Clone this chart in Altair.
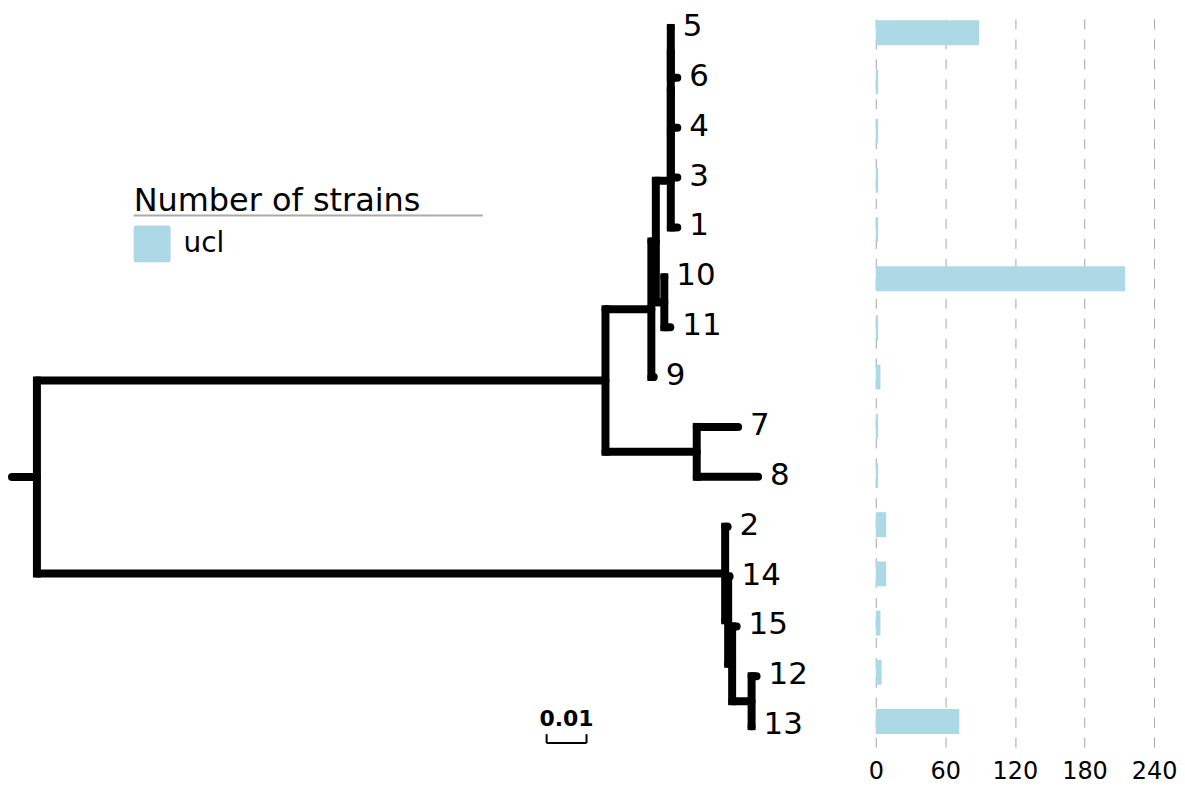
import altair as alt
import pandas as pd

# ---------------- data ----------------
# Tree topology (children listed top-to-bottom), branch lengths in substitutions/site
NODES = ["R", "A", "B", "D", "C", "G", "9", "F", "E", "P", "1", "Q", "3", "S", "4",
         "5", "6", "10", "11", "7", "8", "2", "L", "14", "K", "15", "J", "12", "13"]
PARENTS = [None, "R", "R", "A", "A", "D", "D", "G", "G", "F", "F", "P", "P", "Q", "Q",
           "S", "S", "E", "E", "C", "C", "B", "B", "L", "L", "K", "K", "J", "J"]
BRANCH = [0.00625, 0.1425, 0.1725, 0.0115, 0.022875, 0.001125, 0.0006, 0.00375, 0.002125,
          0.0, 0.001625, 0.0, 0.001625, 0.0, 0.001625,
          0.0, 0.001625, 0.0, 0.0015, 0.010375, 0.015375, 0.000625, 0.00075, 0.000375,
          0.001, 0.001125, 0.004875, 0.00125, 0.0]

# Number of strains per leaf
STRAIN_LEAVES = ["5", "6", "4", "3", "1", "10", "11", "9", "7", "8", "2", "14", "15", "12", "13"]
STRAIN_COUNTS = [89, 2, 2, 2, 2, 215, 2, 4, 2, 2, 9, 9, 4, 5, 72]
SOURCE = "ucl"
X_TICKS = [0, 60, 120, 180, 240]
SCALE_BAR_LENGTH = 0.01
SCALE_BAR_LABEL = "0.01"

FONT = "DejaVu Sans"

# ---------------- tree layout ----------------
children = {}
for n, p in zip(NODES, PARENTS):
    if p is not None:
        children.setdefault(p, []).append(n)
blen = dict(zip(NODES, BRANCH))
parent = dict(zip(NODES, PARENTS))
dist, ypos, order = {}, {}, []


def walk(n, d):
    dist[n] = d + blen[n]
    if n in children:
        for c in children[n]:
            walk(c, dist[n])
        ypos[n] = (ypos[children[n][0]] + ypos[children[n][-1]]) / 2
    else:
        ypos[n] = len(order)
        order.append(n)


walk(NODES[0], 0.0)

hdf = pd.DataFrame([
    {"x": dist[parent[n]] if parent[n] else 0.0, "x2": dist[n], "y": ypos[n]}
    for n in NODES
])
vdf = pd.DataFrame([
    {"x": dist[n], "y": ypos[children[n][0]], "y2": ypos[children[n][-1]]}
    for n in NODES if n in children
])
ldf = pd.DataFrame([{"leaf": n, "x": dist[n], "y": ypos[n]} for n in order])
bdf = pd.DataFrame({
    "leaf": STRAIN_LEAVES,
    "count": STRAIN_COUNTS,
    "y": [ypos[l] for l in STRAIN_LEAVES],
    "source": [SOURCE] * len(STRAIN_LEAVES),
})

# ---------------- scales ----------------
xscale = alt.Scale(domain=[-0.00075, 0.21425], nice=False, zero=False)
yscale = alt.Scale(domain=[-0.38, 14.42], reverse=True, nice=False, zero=False)
X = lambda f: alt.X(f, scale=xscale, axis=None)
Y = lambda f: alt.Y(f, scale=yscale, axis=None)

hseg = alt.Chart(hdf).mark_rule(strokeWidth=8, strokeCap="round", color="black").encode(
    x=X("x:Q"), x2="x2:Q", y=Y("y:Q"))
vseg = alt.Chart(vdf).mark_rule(strokeWidth=8, strokeCap="square", color="black").encode(
    x=X("x:Q"), y=Y("y:Q"), y2="y2:Q")
labels = alt.Chart(ldf).mark_text(
    align="left", baseline="middle", dx=12, dy=-1, fontSize=31, font=FONT, color="black"
).encode(x=X("x:Q"), y=Y("y:Q"), text="leaf:N")

# scale bar
SB_START = 0.134
sb = pd.DataFrame({"x": [SB_START], "x2": [SB_START + SCALE_BAR_LENGTH], "y": [14.34],
                   "label": [SCALE_BAR_LABEL], "xm": [SB_START + SCALE_BAR_LENGTH / 2], "yt": [13.85]})
sb_ticks = pd.DataFrame({"x": [SB_START, SB_START + SCALE_BAR_LENGTH], "y": [14.34, 14.34], "y2": [14.16, 14.16]})
sb_line = alt.Chart(sb).mark_rule(strokeWidth=2, color="black").encode(x=X("x:Q"), x2="x2:Q", y=Y("y:Q"))
sb_tick = alt.Chart(sb_ticks).mark_rule(strokeWidth=2, color="black").encode(x=X("x:Q"), y=Y("y:Q"), y2="y2:Q")
sb_text = alt.Chart(sb).mark_text(fontSize=22, fontWeight="bold", font=FONT, color="black",
                                  baseline="middle").encode(x=X("xm:Q"), y=Y("yt:Q"), text="label:N")

underline = alt.Chart(pd.DataFrame({"a": [0]})).mark_rule(color="#aaaaaa", strokeWidth=2).encode(
    x=alt.value(125), x2=alt.value(475), y=alt.value(207))

tree = alt.layer(vseg, hseg, labels, sb_line, sb_tick, sb_text, underline).properties(
    width=860, height=740)

ROUNDED = ("M-0.84,-1 L0.84,-1 Q1,-1 1,-0.84 L1,0.84 Q1,1 0.84,1 L-0.84,1 "
           "Q-1,1 -1,0.84 L-1,-0.84 Q-1,-1 -0.84,-1 Z")

bars = alt.Chart(bdf).mark_bar(orient="horizontal", size=25).encode(
    x=alt.X("count:Q", scale=alt.Scale(domain=[0, 240], nice=False),
            axis=alt.Axis(values=X_TICKS, grid=True, gridDash=[10, 10], gridColor="#a6a6a6",
                          gridWidth=1, domain=False, ticks=False, labelFont=FONT, labelFontSize=24,
                          labelColor="black", labelPadding=12, title=None, labelFlush=False)),
    y=Y("y:Q"),
    color=alt.Color("source:N", scale=alt.Scale(domain=[SOURCE], range=["#add8e6"]),
                    legend=alt.Legend(title="Number of strains", orient="none", legendX=125,
                                      legendY=178, titleFont=FONT, titleFontSize=32,
                                      titleFontWeight="normal", titleColor="black", titlePadding=7,
                                      titleLimit=600,
                                      symbolType=ROUNDED, symbolSize=1369, symbolStrokeWidth=0,
                                      symbolOpacity=1, labelFont=FONT, labelFontSize=28,
                                      labelColor="black", labelOffset=13)),
).properties(width=279, height=740)

chart = alt.hconcat(tree, bars, spacing=9, bounds="flush").properties(padding=0).configure_view(
    stroke=None)

chart.save("out.html", embed_options={"renderer": "svg", "actions": False})
